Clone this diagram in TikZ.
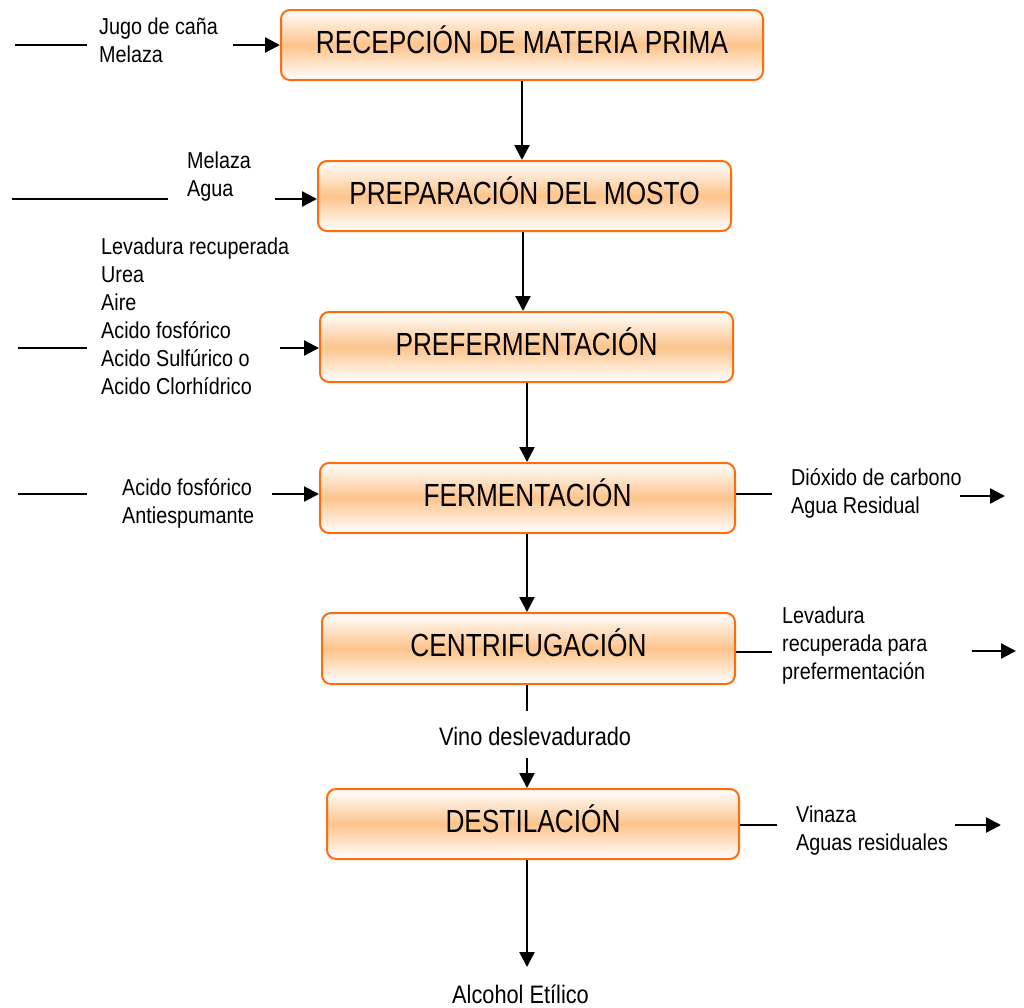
\documentclass[tikz,border=0pt]{standalone}
\usepackage{fontspec}
\setmainfont{Liberation Sans}[FakeStretch=0.82]
\newfontfamily\smallf{Liberation Sans}[FakeStretch=0.86]
\usetikzlibrary{arrows.meta}
\definecolor{boxedge}{RGB}{255,108,12}
\definecolor{boxmid}{RGB}{253,196,140}
\begin{document}
\begin{tikzpicture}[x=1pt,y=-1pt,
  proc/.style={draw=boxedge, line width=2pt, rounded corners=9pt, top color=white, bottom color=white, middle color=boxmid, minimum height=70pt, inner sep=0pt, text height=22pt, text depth=5.5pt, font=\fontsize{32}{38}\selectfont},
  lbl/.style={font=\smallf\fontsize{23}{28}\selectfont, align=left, inner sep=0pt, anchor=base west},
  biglbl/.style={lbl, font=\smallf\fontsize{25.3}{30}\selectfont},
  flow/.style={line width=2.3pt, -{Triangle[length=15pt,width=15pt]}},
  plain/.style={line width=1.5pt}]
\useasboundingbox (0,0) rectangle (1024,1007);

% process boxes
\node[proc, minimum width=482pt] (b1) at (522,45) {RECEPCIÓN DE MATERIA PRIMA};
\node[proc, minimum width=413pt] (b2) at (524.5,196) {PREPARACIÓN DEL MOSTO};
\node[proc, minimum width=413pt] (b3) at (526.5,347) {PREFERMENTACIÓN};
\node[proc, minimum width=415pt] (b4) at (527.5,498) {FERMENTACIÓN};
\node[proc, minimum width=413pt, minimum height=71pt] (b5) at (528.5,648.5) {CENTRIFUGACIÓN};
\node[proc, minimum width=412pt] (b6) at (533,824) {DESTILACIÓN};

% labels (anchored at the baseline of the last line)
\node[lbl] (t1) at (99,62) {Jugo de caña\\Melaza};
\node[lbl] (t2) at (187,196) {Melaza\\Agua};
\node[lbl] (t3) at (101,394) {Levadura recuperada\\Urea\\Aire\\Acido fosfórico\\Acido Sulfúrico o\\Acido Clorhídrico};
\node[lbl] (t4) at (122,523) {Acido fosfórico\\Antiespumante};
\node[lbl] (t5) at (791,513) {Dióxido de carbono\\Agua Residual};
\node[lbl] (t6) at (782,679) {Levadura\\recuperada para\\prefermentación};
\node[lbl] (t7) at (796,850) {Vinaza\\Aguas residuales};
\node[biglbl] (vino) at (439,745) {Vino deslevadurado};
\node[biglbl] (alc) at (452,1003) {Alcohol Etílico};

% coordinates
\coordinate (l1a) at (15,45);  \coordinate (l1b) at (87,45);  \coordinate (a1) at (233,45);
\coordinate (l2a) at (12,199); \coordinate (l2b) at (168,199); \coordinate (a2) at (275,199);
\coordinate (l3a) at (18,348); \coordinate (l3b) at (87,348);  \coordinate (a3) at (280,348);
\coordinate (l4a) at (18,494); \coordinate (l4b) at (87,494);  \coordinate (a4) at (272,494);
\coordinate (r4) at (772,494); \coordinate (o4a) at (960,496); \coordinate (o4b) at (1005,496);
\coordinate (r5) at (772,652); \coordinate (o5a) at (972,651); \coordinate (o5b) at (1016,651);
\coordinate (r6) at (777,825); \coordinate (o6a) at (955,825); \coordinate (o6b) at (1001,825);
\coordinate (c3) at (527,383); \coordinate (c4) at (527,533);
\coordinate (c5) at (527,711); \coordinate (c6) at (527,758); \coordinate (d6) at (527,967);

% main flow
\draw[flow] (b1.south) -- (b1.south |- b2.north);
\draw[flow] ([xshift=-1.5pt]b2.south) -- ([xshift=-1.5pt]b2.south |- b3.north);
\draw[flow] (c3 |- b3.south) -- (c3 |- b4.north);
\draw[flow] (c4 |- b4.south) -- (c4 |- b5.north);
\draw[plain, line width=2.3pt] (c5 |- b5.south) -- (c5);
\draw[flow] (c6) -- (c6 |- b6.north);
\draw[flow] (d6 |- b6.south) -- (d6);

% inputs
\draw[plain] (l1a) -- (l1b); \draw[flow] (a1) -- (b1.west);
\draw[plain] (l2a) -- (l2b); \draw[flow] (a2) -- (b2.west |- a2);
\draw[plain] (l3a) -- (l3b); \draw[flow] (a3) -- (b3.west |- a3);
\draw[plain] (l4a) -- (l4b); \draw[flow] (a4) -- (b4.west |- a4);

% outputs
\draw[plain] (b4.east |- r4) -- (r4); \draw[flow] (o4a) -- (o4b);
\draw[plain] (b5.east |- r5) -- (r5); \draw[flow] (o5a) -- (o5b);
\draw[plain] (b6.east |- r6) -- (r6); \draw[flow] (o6a) -- (o6b);
\end{tikzpicture}
\end{document}
